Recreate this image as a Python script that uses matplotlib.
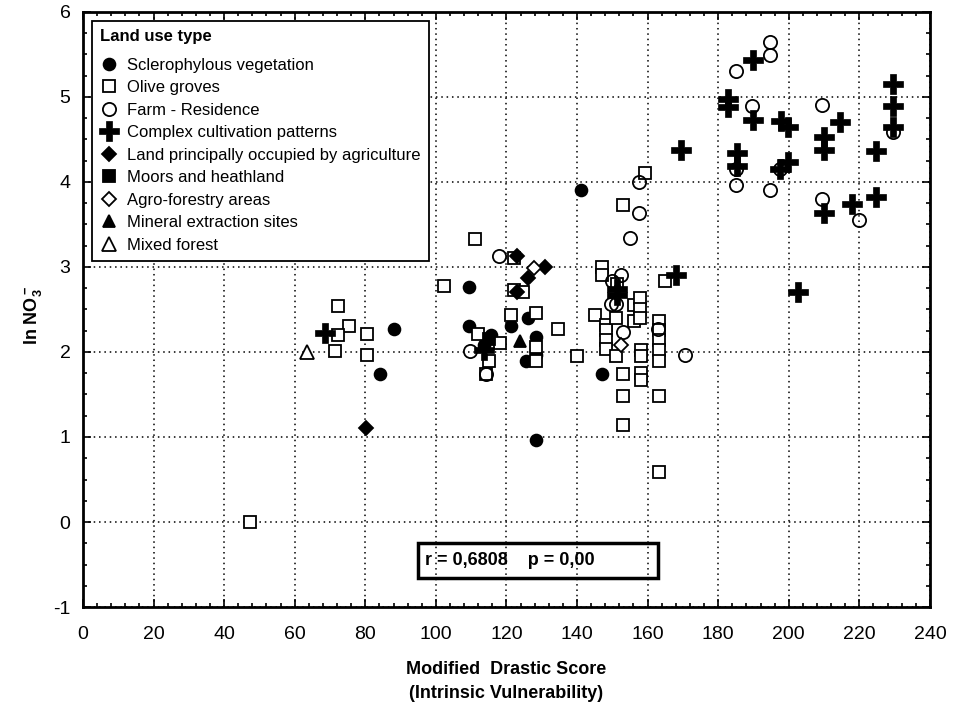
import matplotlib
matplotlib.use("Agg")
import matplotlib.pyplot as plt
from matplotlib.patches import Rectangle
from matplotlib.ticker import MultipleLocator

plt.rcParams['font.family'] = ['Liberation Sans', 'DejaVu Sans']
plt.rcParams['mathtext.fontset'] = 'custom'
plt.rcParams['mathtext.rm'] = 'Liberation Sans:bold'
plt.rcParams['mathtext.bf'] = 'Liberation Sans:bold'
plt.rcParams['axes.unicode_minus'] = False

# data (Modified Drastic Score, ln NO3-)
scler_x = [141.1, 109.4, 109.4, 121.2, 126.2, 128.3, 125.5, 128.3, 147.2, 88.2, 84.3, 115.5, 113.5, 128.3]
scler_y = [3.91, 2.77, 2.31, 2.31, 2.40, 2.18, 1.89, 0.97, 1.74, 2.27, 1.74, 2.20, 2.08, 1.97]

olive_x = [47.3, 72.3, 75.4, 72.3, 71.4, 80.4, 80.4, 102.4, 111.2, 122.2, 122.2, 124.6, 112.0, 118.1,
           115.1, 114.2, 121.2, 128.3, 128.3, 128.3, 134.6, 140.1, 145.0, 147.2, 147.2, 148.2, 148.2,
           148.2, 148.2, 151.0, 151.0, 151.2, 153.1, 159.2, 153.1, 153.1, 153.1, 156.1, 156.1, 157.8,
           157.8, 157.8, 158.0, 158.0, 158.0, 158.0, 163.2, 163.2, 163.2, 163.2, 163.2, 163.2, 163.2, 164.9]
olive_y = [0.0, 2.54, 2.31, 2.20, 2.01, 2.21, 1.96, 2.78, 3.33, 3.10, 2.73, 2.70, 2.21, 2.11,
           1.89, 1.74, 2.44, 2.46, 2.06, 1.89, 2.27, 1.95, 2.44, 3.00, 2.91, 2.32, 2.26,
           2.14, 2.04, 2.40, 1.95, 2.80, 3.73, 4.11, 1.74, 1.48, 1.14, 2.55, 2.36, 2.63,
           2.51, 2.40, 2.02, 1.95, 1.75, 1.67, 2.36, 2.26, 2.14, 2.02, 1.89, 1.48, 0.59, 2.84]

farm_x = [117.8, 109.8, 114.2, 149.8, 152.6, 149.5, 151.0, 152.9, 155.0, 157.6, 157.6, 163.0, 170.5,
          185.0, 194.6, 194.6, 189.7, 209.5, 229.4, 185.0, 197.5, 185.0, 194.6, 209.5, 219.8]
farm_y = [3.13, 2.01, 1.74, 2.84, 2.91, 2.56, 2.56, 2.24, 3.34, 3.63, 4.00, 2.27, 1.96,
          5.31, 5.65, 5.49, 4.89, 4.91, 4.59, 4.15, 4.15, 3.96, 3.90, 3.80, 3.55]

compl_x = [68.6, 113.5, 151.2, 151.2, 168.0, 169.6, 182.8, 182.8, 189.9, 189.9, 197.9, 199.8, 214.6,
           209.9, 209.9, 229.5, 229.5, 229.5, 224.8, 185.2, 185.2, 199.8, 197.5, 209.9, 217.8, 224.8, 202.6]
compl_y = [2.22, 2.02, 2.74, 2.67, 2.91, 4.38, 4.98, 4.88, 5.44, 4.73, 4.72, 4.65, 4.70,
           4.53, 4.38, 5.15, 4.89, 4.65, 4.37, 4.34, 4.19, 4.24, 4.15, 3.63, 3.74, 3.82, 2.70]

agri_x = [80.2, 122.9, 130.9, 126.0, 122.9]
agri_y = [1.10, 3.13, 3.00, 2.87, 2.71]

moors_x = [115.0]
moors_y = [2.15]

agrofor_x = [127.8, 152.6]
agrofor_y = [2.99, 2.08]

mineral_x = [123.8]
mineral_y = [2.13]

mixed_x = [63.4]
mixed_y = [2.0]

fig = plt.figure(figsize=(9.57, 7.05), dpi=100)
ax = fig.add_axes([0.0867, 0.139, 0.885, 0.844])
ax.set_axisbelow(True)

mk = dict(ls='none', markeredgecolor='black', markeredgewidth=1.3)
ax.plot(scler_x, scler_y, 'o', ms=8.5, mfc='black', label='Sclerophylous vegetation', **mk)
ax.plot(olive_x, olive_y, 's', ms=8, mfc='white', label='Olive groves', **mk)
ax.plot(farm_x, farm_y, 'o', ms=9.5, mfc='none', label='Farm - Residence', **mk)
ax.plot(compl_x, compl_y, 'P', ms=14, mfc='black', label='Complex cultivation patterns',
        ls='none', markeredgecolor='black', markeredgewidth=0.5)
ax.plot(agri_x, agri_y, 'D', ms=7, mfc='black', label='Land principally occupied by agriculture', **mk)
ax.plot(moors_x, moors_y, 's', ms=8, mfc='black', label='Moors and heathland', **mk)
ax.plot(agrofor_x, agrofor_y, 'D', ms=7, mfc='white', label='Agro-forestry areas', **mk)
ax.plot(mineral_x, mineral_y, '^', ms=8.5, mfc='black', label='Mineral extraction sites', **mk)
ax.plot(mixed_x, mixed_y, '^', ms=10, mfc='white', label='Mixed forest', **mk)

ax.set_xlim(0, 240)
ax.set_ylim(-1, 6)
ax.xaxis.set_major_locator(MultipleLocator(20))
ax.xaxis.set_minor_locator(MultipleLocator(4))
ax.yaxis.set_major_locator(MultipleLocator(1))
ax.yaxis.set_minor_locator(MultipleLocator(0.25))
ax.tick_params(which='both', direction='in', top=True, right=True, labelsize=14, width=1.2)
ax.tick_params(which='major', length=6)
ax.tick_params(axis='x', which='major', pad=14)
ax.tick_params(axis='y', which='major', pad=9)
ax.tick_params(which='minor', length=3)
for s in ax.spines.values():
    s.set_linewidth(2)

ax.grid(True, which='major', color='black', linestyle=(0, (1, 2.5)), linewidth=1.1)

ax.set_xlabel('Modified  Drastic Score\n(Intrinsic Vulnerability)', fontsize=13,
              fontweight='bold', linespacing=1.55)
ax.xaxis.set_label_coords(0.5, -0.09)
ax.xaxis.label.set_va('top')
ax.set_ylabel(r'ln NO$_3^-$', fontsize=13, fontweight='bold')
ax.yaxis.set_label_coords(-0.046, 0.49)

# r / p annotation box
ax.add_patch(Rectangle((95, -0.66), 68, 0.41, fill=False, edgecolor='black', linewidth=2.5, zorder=5))
ax.text(97, -0.455, 'r = 0,6808    p = 0,00', fontsize=13, fontweight='bold', va='center', ha='left', zorder=6)

leg = ax.legend(loc='upper left', title='Land use type', fontsize=12, frameon=True, fancybox=False,
                edgecolor='black', framealpha=1, borderaxespad=0.55, handlelength=1.0,
                handletextpad=0.6, labelspacing=0.45, borderpad=0.5,
                title_fontproperties={'weight': 'bold', 'size': 12})
leg._legend_box.align = 'left'
leg._legend_box.sep = 9.5
leg.get_frame().set_linewidth(1.3)

fig.savefig('out.png', dpi=100)
